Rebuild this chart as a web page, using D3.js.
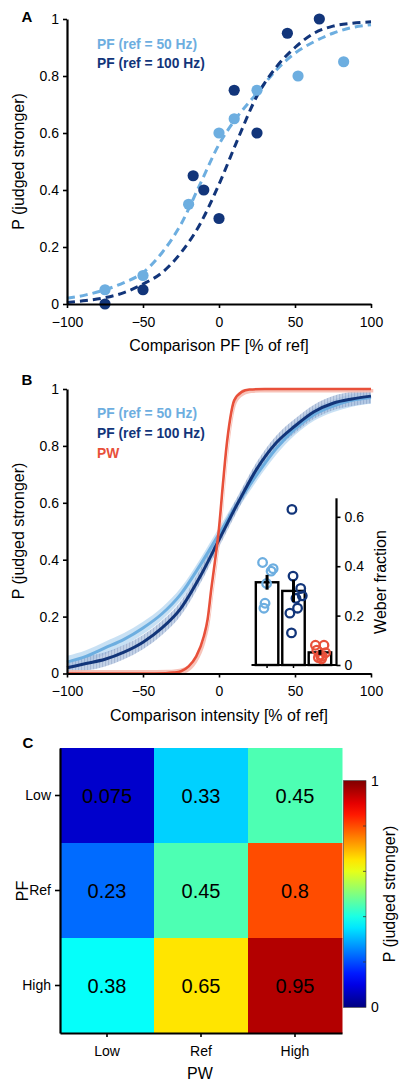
<!DOCTYPE html>
<html><head><meta charset="utf-8">
<script src="https://cdn.jsdelivr.net/npm/d3@7"></script>
<style>body{margin:0;background:#fff}svg{display:block;font-family:"Liberation Sans",Arial,sans-serif}</style>
</head><body><svg id="c" width="400" height="1089"></svg>
<script>
// ---------------- DATA ----------------
const pctTicks = [-100, -50, 0, 50, 100];
const pTicks = [0, 0.2, 0.4, 0.6, 0.8, 1];

// Panel A: raw points
const aLightX = [-75, -50, -20, 0, 10, 25, 52, 82];
const aLightY = [0.05, 0.10, 0.35, 0.60, 0.65, 0.75, 0.80, 0.85];
const aDarkX = [-75, -50, -17, -10, 0, 10, 25, 45, 66];
const aDarkY = [0.00, 0.05, 0.45, 0.40, 0.30, 0.75, 0.60, 0.95, 1.00];
// fitted curves
const fitX = [-100, -87.5, -75, -62.5, -50, -37.5, -25, -12.5, 0, 12.5, 25, 37.5, 50, 62.5, 75, 87.5, 100];
const aLightFit = [0.02, 0.032, 0.05, 0.075, 0.11, 0.18, 0.28, 0.42, 0.56, 0.66, 0.74, 0.82, 0.88, 0.92, 0.95, 0.97, 0.98];
const aDarkFit = [0.005, 0.012, 0.022, 0.04, 0.07, 0.11, 0.18, 0.28, 0.42, 0.58, 0.73, 0.83, 0.90, 0.95, 0.975, 0.985, 0.99];
const legendA = ["PF (ref = 50 Hz)", "PF (ref = 100 Hz)"];

// Panel B: group-mean curves
const bLightFit = [0.04, 0.06, 0.09, 0.12, 0.16, 0.21, 0.28, 0.38, 0.49, 0.60, 0.70, 0.79, 0.86, 0.91, 0.94, 0.96, 0.97];
const bDarkFit = [0.02, 0.035, 0.05, 0.075, 0.11, 0.16, 0.23, 0.34, 0.47, 0.60, 0.72, 0.81, 0.87, 0.92, 0.95, 0.965, 0.975];
const redX = [-100, -50, -35, -30, -25, -20, -15, -10, -7.5, -5, -2.5, 0, 2.5, 5, 7.5, 10, 15, 20, 30, 50, 100];
const redY = [0, 0, 0.001, 0.003, 0.008, 0.025, 0.06, 0.13, 0.19, 0.30, 0.40, 0.51, 0.66, 0.80, 0.90, 0.96, 0.99, 0.998, 1, 1, 1];
const bandLight = 0.022, bandDark = 0.025, bandRed = 0.012;
const legendB = ["PF (ref = 50 Hz)", "PF (ref = 100 Hz)", "PW"];

// Panel B inset: Weber fractions
const weberGroups = ["PF50", "PF100", "PW"];
const weberMean = [0.335, 0.30, 0.051];
const weberErr = [0.03, 0.045, 0.01];
const weberLight = [0.415, 0.39, 0.38, 0.33, 0.25, 0.23];
const jitLight = [-0.2, 0.27, 0.18, -0.02, -0.09, -0.14];
const weberDark = [0.63, 0.36, 0.31, 0.28, 0.27, 0.23, 0.21, 0.13];
const jitDark = [-0.07, -0.02, 0.32, 0.39, 0.11, 0.18, -0.16, -0.09];
const weberRed = [0.08, 0.08, 0.06, 0.05, 0.04, 0.035, 0.03, 0.025];
const jitRed = [-0.2, 0.18, -0.14, 0.25, 0.02, 0.11, -0.07, 0.07];
const weberTicks = [0, 0.2, 0.4, 0.6];

// Panel C: heatmap
const pwLevels = ["Low", "Ref", "High"];
const pfLevels = ["Low", "Ref", "High"];
const heatValues = [
  [0.075, 0.33, 0.45],
  [0.23, 0.45, 0.8],
  [0.38, 0.65, 0.95]
];
const cbarTicks = [0, 1];

// ---------------- DRAW ----------------
const svg = d3.select("#c");
const LIGHT = "#6daee0", DARK = "#12357a", RED = "#e8503a";
const fmt = d3.format("");

function styleAxis(g) {
  g.select(".domain").attr("stroke-width", 2.2).attr("stroke", "#000");
  g.selectAll(".tick line").attr("stroke-width", 1.6).attr("stroke", "#000");
  g.selectAll(".tick text").attr("font-size", 14).attr("fill", "#000")
    .attr("font-family", '"Liberation Sans",Arial,sans-serif');
}
function panelLetter(t, x, y) {
  svg.append("text").attr("x", x).attr("y", y).attr("font-weight", "bold")
    .attr("font-size", 15).attr("text-anchor", "middle").text(t);
}
function yTitle(t, x, y) {
  svg.append("text").attr("transform", `translate(${x},${y}) rotate(-90)`)
    .attr("text-anchor", "middle").attr("dy", "0.35em").attr("font-size", 16).text(t);
}

// ===== Panel A =====
const xA = d3.scaleLinear().domain([-100, 100]).range([67, 371]);
const yA = d3.scaleLinear().domain([0, 1]).range([304, 19]);
panelLetter("A", 27, 22);

const lineA = d3.line().x((d, i) => xA(fitX[i])).y(d => yA(d)).curve(d3.curveMonotoneX);
svg.append("path").datum(aLightFit).attr("d", lineA).attr("fill", "none")
  .attr("stroke", LIGHT).attr("stroke-width", 3).attr("stroke-dasharray", "8,5");
svg.append("path").datum(aDarkFit).attr("d", lineA).attr("fill", "none")
  .attr("stroke", DARK).attr("stroke-width", 3).attr("stroke-dasharray", "8,5");

svg.append("g").selectAll("circle").data(aLightX).join("circle")
  .attr("cx", d => xA(d)).attr("cy", (d, i) => yA(aLightY[i])).attr("r", 5.6).attr("fill", LIGHT);
svg.append("g").selectAll("circle").data(aDarkX).join("circle")
  .attr("cx", d => xA(d)).attr("cy", (d, i) => yA(aDarkY[i])).attr("r", 5.6).attr("fill", DARK);

svg.append("g").attr("transform", "translate(0,304)")
  .call(d3.axisBottom(xA).tickValues(pctTicks).tickFormat(fmt).tickSize(4).tickSizeOuter(0).tickPadding(9))
  .call(styleAxis);
svg.append("g").attr("transform", "translate(67,0)")
  .call(d3.axisLeft(yA).tickValues(pTicks).tickFormat(fmt).tickSize(4).tickSizeOuter(0).tickPadding(4))
  .call(styleAxis);
svg.append("text").attr("x", 219).attr("y", 351).attr("text-anchor", "middle").attr("font-size", 16)
  .text("Comparison PF [% of ref]");
yTitle("P (judged stronger)", 18, 161.5);
[LIGHT, DARK].forEach((c, i) => {
  svg.append("text").attr("x", 97).attr("y", 48.8 + i * 19).attr("font-size", 13.8)
    .attr("font-weight", "bold").attr("fill", c).text(legendA[i]);
});

// ===== Panel B =====
const xB = d3.scaleLinear().domain([-100, 100]).range([67, 371]);
const yB = d3.scaleLinear().domain([0, 1]).range([673.5, 389]);
panelLetter("B", 27, 385);

const defs = svg.append("defs");
const pat = defs.append("pattern").attr("id", "hatch").attr("patternUnits", "userSpaceOnUse")
  .attr("width", 3).attr("height", 10);
pat.append("rect").attr("width", 3).attr("height", 10).attr("fill", "#a9bedd");
pat.append("line").attr("x1", 0.6).attr("x2", 0.6).attr("y1", 0).attr("y2", 10)
  .attr("stroke", "#6f88b8").attr("stroke-width", 0.7);

function band(arr, xs, hw) {
  return d3.area().x((d, i) => xB(xs[i])).y0(d => yB(Math.max(0, d - hw))).y1(d => yB(Math.min(1, d + hw)))
    .curve(d3.curveMonotoneX)(arr);
}
svg.append("path").attr("d", band(bLightFit, fitX, bandLight)).attr("fill", "#c3def3").attr("opacity", 0.9);
svg.append("path").attr("d", band(bDarkFit, fitX, bandDark)).attr("fill", "url(#hatch)").attr("opacity", 0.7);
svg.append("path").attr("d", band(redY, redX.map(v => v + 1.5), bandRed)).attr("fill", "#f6bdb1").attr("opacity", 0.9);

const lineB = xs => d3.line().x((d, i) => xB(xs[i])).y(d => yB(d)).curve(d3.curveMonotoneX);
svg.append("path").datum(bLightFit).attr("d", lineB(fitX)).attr("fill", "none").attr("stroke", LIGHT).attr("stroke-width", 3);
svg.append("path").datum(bDarkFit).attr("d", lineB(fitX)).attr("fill", "none").attr("stroke", DARK).attr("stroke-width", 3);
svg.append("path").datum(redY).attr("d", lineB(redX)).attr("fill", "none").attr("stroke", RED).attr("stroke-width", 2.6);

svg.append("g").attr("transform", "translate(0,673.5)")
  .call(d3.axisBottom(xB).tickValues(pctTicks).tickFormat(fmt).tickSize(4).tickSizeOuter(0).tickPadding(9))
  .call(styleAxis);
svg.append("g").attr("transform", "translate(67,0)")
  .call(d3.axisLeft(yB).tickValues(pTicks).tickFormat(fmt).tickSize(4).tickSizeOuter(0).tickPadding(4))
  .call(styleAxis);
svg.append("text").attr("x", 219).attr("y", 721).attr("text-anchor", "middle").attr("font-size", 16)
  .text("Comparison intensity [% of ref]");
yTitle("P (judged stronger)", 18, 531);
[LIGHT, DARK, RED].forEach((c, i) => {
  svg.append("text").attr("x", 97).attr("y", 418 + i * 19.8).attr("font-size", 13.8)
    .attr("font-weight", "bold").attr("fill", c).text(legendB[i]);
});

// inset
const xW = d3.scaleBand().domain(weberGroups).range([254.5, 332.5]).paddingInner(0.15).paddingOuter(0.05);
const yW = d3.scaleLinear().domain([0, 0.675]).range([665, 498.3]);
svg.append("line").attr("x1", 251.5).attr("x2", 337).attr("y1", 665).attr("y2", 665)
  .attr("stroke", "#000").attr("stroke-width", 2.2);
svg.append("g").selectAll("line").data(weberGroups.slice(0, 2)).join("line")
  .attr("x1", d => xW(d) + xW.bandwidth() / 2).attr("x2", d => xW(d) + xW.bandwidth() / 2)
  .attr("y1", 665).attr("y2", 668).attr("stroke", "#000").attr("stroke-width", 1.5);
svg.append("g").selectAll("rect").data(weberGroups).join("rect")
  .attr("x", d => xW(d)).attr("width", xW.bandwidth())
  .attr("y", (d, i) => yW(weberMean[i])).attr("height", (d, i) => 665 - yW(weberMean[i]))
  .attr("fill", "#fff").attr("stroke", "#000").attr("stroke-width", 2.4);
function dots(vals, jit, grp, col) {
  svg.append("g").selectAll("circle").data(vals).join("circle")
    .attr("cx", (d, i) => xW(grp) + xW.bandwidth() / 2 + jit[i] * xW.bandwidth())
    .attr("cy", d => yW(d)).attr("r", 4.3).attr("fill", "none").attr("stroke", col).attr("stroke-width", 2.3);
}
dots(weberLight, jitLight, "PF50", LIGHT);
dots(weberDark, jitDark, "PF100", DARK);
dots(weberRed, jitRed, "PW", RED);
svg.append("g").selectAll("line").data(weberGroups).join("line")
  .attr("x1", d => xW(d) + xW.bandwidth() / 2).attr("x2", d => xW(d) + xW.bandwidth() / 2)
  .attr("y1", (d, i) => yW(weberMean[i] - weberErr[i])).attr("y2", (d, i) => yW(weberMean[i] + weberErr[i]))
  .attr("stroke", "#000").attr("stroke-width", 3);
svg.append("g").attr("transform", "translate(336.5,0)")
  .call(d3.axisRight(yW).tickValues(weberTicks).tickFormat(fmt).tickSize(4).tickSizeOuter(0).tickPadding(4))
  .call(g => g.select(".domain").attr("d", `M0,${yW(0.675)}V665`))
  .call(styleAxis);
svg.append("text").attr("transform", "translate(380,582) rotate(-90)")
  .attr("text-anchor", "middle").attr("dy", "0.35em").attr("font-size", 16).text("Weber fraction");

// ===== Panel C =====
panelLetter("C", 28, 748);
const jet = t => {
  const c = v => Math.max(0, Math.min(1, v));
  return d3.rgb(255 * c(1.5 - Math.abs(4 * t - 3)), 255 * c(1.5 - Math.abs(4 * t - 2)), 255 * c(1.5 - Math.abs(4 * t - 1))) + "";
};
const color = d3.scaleSequential(jet).domain([0, 1]);
const xC = d3.scaleBand().domain(pwLevels).range([60, 342]);
const yC = d3.scaleBand().domain(pfLevels).range([748, 1033]);
const cells = [];
heatValues.forEach((row, r) => row.forEach((v, c) => cells.push({ r: pfLevels[r], c: pwLevels[c], v })));
svg.append("g").selectAll("rect").data(cells).join("rect")
  .attr("x", d => xC(d.c)).attr("y", d => yC(d.r)).attr("width", xC.bandwidth() + 0.5).attr("height", yC.bandwidth() + 0.5)
  .attr("fill", d => color(d.v));
svg.append("g").selectAll("text").data(cells).join("text")
  .attr("x", d => xC(d.c) + xC.bandwidth() / 2).attr("y", d => yC(d.r) + yC.bandwidth() / 2)
  .attr("dy", "0.36em").attr("text-anchor", "middle").attr("font-size", 20).attr("fill", "#000")
  .text(d => String(d.v));
svg.append("g").attr("transform", "translate(0,1033)")
  .call(d3.axisBottom(xC).tickSize(4).tickSizeOuter(0).tickPadding(9)).call(styleAxis);
svg.append("g").attr("transform", "translate(60,0)")
  .call(d3.axisLeft(yC).tickSize(5).tickSizeOuter(0).tickPadding(4)).call(styleAxis);
svg.append("text").attr("x", 200).attr("y", 1079).attr("text-anchor", "middle").attr("font-size", 16).text("PW");
yTitle("PF", 22, 891);

// colorbar
const grad = defs.append("linearGradient").attr("id", "jet").attr("x1", 0).attr("x2", 0).attr("y1", 1).attr("y2", 0);
d3.range(0, 1.0001, 0.05).forEach(t => grad.append("stop").attr("offset", t).attr("stop-color", color(t)));
const yCb = d3.scaleLinear().domain([0, 1]).range([1007.3, 780.7]);
svg.append("rect").attr("x", 343.5).attr("y", yCb(1)).attr("width", 22.5).attr("height", yCb(0) - yCb(1))
  .attr("fill", "url(#jet)").attr("stroke", "#333").attr("stroke-width", 0.6);
svg.append("g").selectAll("line").data(d3.range(0.2, 0.81, 0.2)).join("line")
  .attr("x1", 363).attr("x2", 366).attr("y1", d => yCb(d)).attr("y2", d => yCb(d))
  .attr("stroke", "#333").attr("stroke-width", 0.8);
svg.append("g").selectAll("text").data(cbarTicks).join("text")
  .attr("x", 371).attr("y", d => yCb(d)).attr("dy", "0.36em").attr("font-size", 14).text(fmt);
svg.append("text").attr("transform", "translate(389,894) rotate(-90)")
  .attr("text-anchor", "middle").attr("dy", "0.35em").attr("font-size", 16).text("P (judged stronger)");
</script>
</body></html>
